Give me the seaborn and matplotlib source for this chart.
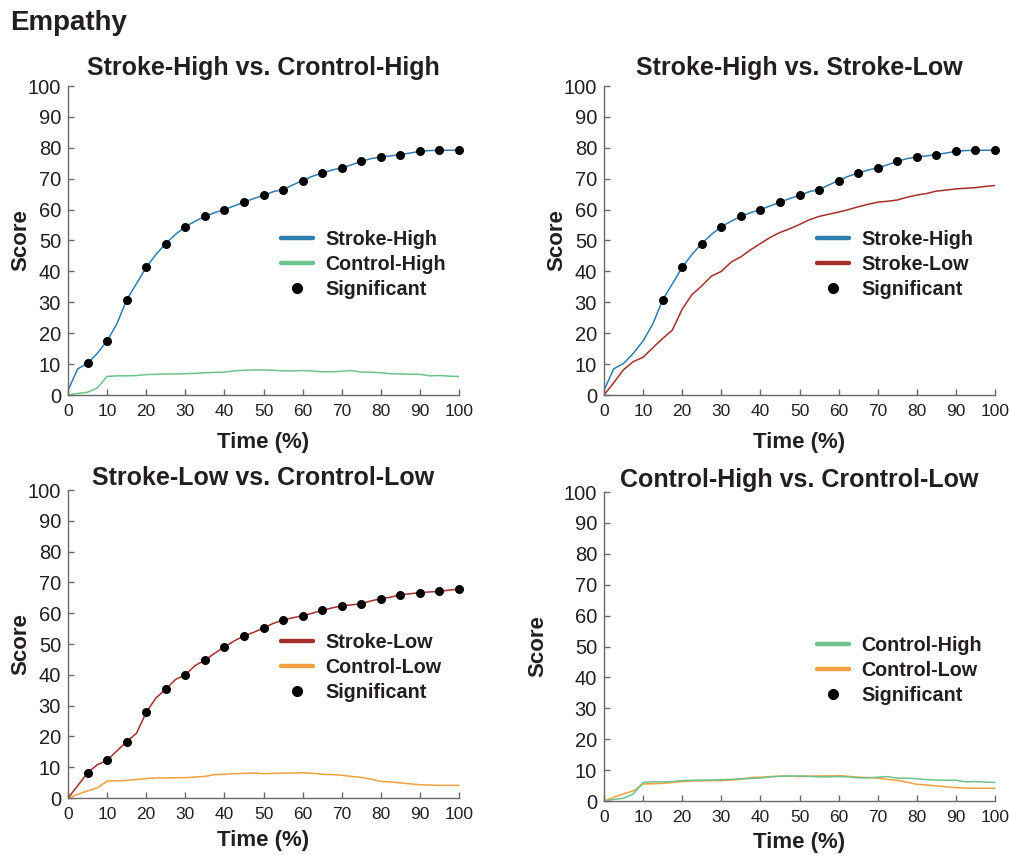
import numpy as np
import pandas as pd
import matplotlib
matplotlib.use("Agg")
import matplotlib.pyplot as plt
from matplotlib.lines import Line2D
import seaborn as sns

# ---------------- data ----------------
time = [0, 2.5, 5, 7.5, 10, 12.5, 15, 17.5, 20, 22.5, 25, 27.5, 30, 32.5, 35, 37.5,
        40, 42.5, 45, 47.5, 50, 52.5, 55, 57.5, 60, 62.5, 65, 67.5, 70, 72.5, 75,
        77.5, 80, 82.5, 85, 87.5, 90, 92.5, 95, 97.5, 100]

stroke_high = [1.5, 8.5, 10.2, 13.5, 17.5, 23.0, 30.8, 36.0, 41.3, 45.5, 49.0, 52.0,
               54.5, 56.2, 57.8, 59.0, 60.0, 61.2, 62.4, 63.6, 64.6, 65.8, 66.5, 68.0,
               69.4, 70.8, 71.8, 72.8, 73.5, 74.5, 75.6, 76.5, 77.0, 77.4, 77.8, 78.3,
               78.9, 79.1, 79.2, 79.2, 79.2]

stroke_low = [0.0, 4.0, 8.2, 10.8, 12.2, 15.3, 18.3, 21.0, 27.8, 32.5, 35.3, 38.5,
              40.0, 43.0, 44.7, 47.0, 49.0, 51.0, 52.6, 53.8, 55.2, 56.7, 57.8, 58.5,
              59.2, 60.0, 60.9, 61.7, 62.4, 62.7, 63.1, 64.0, 64.7, 65.2, 66.0, 66.3,
              66.7, 66.9, 67.1, 67.5, 67.8]

control_high = [0.0, 0.5, 0.9, 2.3, 6.0, 6.2, 6.2, 6.3, 6.6, 6.7, 6.8, 6.8, 6.9, 7.0,
                7.2, 7.3, 7.4, 7.8, 8.0, 8.1, 8.1, 8.0, 7.8, 7.8, 7.9, 7.8, 7.5, 7.5,
                7.7, 7.9, 7.4, 7.4, 7.2, 6.9, 6.8, 6.7, 6.7, 6.2, 6.3, 6.1, 6.0]

control_low = [0.0, 1.2, 2.3, 3.3, 5.5, 5.6, 5.7, 6.0, 6.3, 6.5, 6.5, 6.6, 6.6, 6.8,
               7.0, 7.6, 7.7, 7.9, 8.0, 8.1, 7.9, 8.0, 8.1, 8.1, 8.2, 8.0, 7.7, 7.6,
               7.4, 7.0, 6.7, 6.1, 5.4, 5.2, 4.9, 4.6, 4.3, 4.2, 4.1, 4.1, 4.1]

# significant time points for each comparison
sig_sh_ch = [5, 10, 15, 20, 25, 30, 35, 40, 45, 50, 55, 60, 65, 70, 75, 80, 85, 90, 95, 100]
sig_sh_sl = [15, 20, 25, 30, 35, 40, 45, 50, 55, 60, 65, 70, 75, 80, 85, 90, 95, 100]
sig_sl_cl = [5, 10, 15, 20, 25, 30, 35, 40, 45, 50, 55, 60, 65, 70, 75, 80, 85, 90, 95, 100]
sig_ch_cl = []

series = {
    "Stroke-High": stroke_high,
    "Stroke-Low": stroke_low,
    "Control-High": control_high,
    "Control-Low": control_low,
}
colors = {
    "Stroke-High": "#2E7DB2",
    "Stroke-Low": "#A3302C",
    "Control-High": "#6DC38B",
    "Control-Low": "#F0A040",
}

panels = [
    ("Stroke-High vs. Crontrol-High", "Stroke-High", "Control-High", sig_sh_ch),
    ("Stroke-High vs. Stroke-Low", "Stroke-High", "Stroke-Low", sig_sh_sl),
    ("Stroke-Low vs. Crontrol-Low", "Stroke-Low", "Control-Low", sig_sl_cl),
    ("Control-High vs. Crontrol-Low", "Control-High", "Control-Low", sig_ch_cl),
]

# ---------------- style ----------------
sns.set_style("ticks")
plt.rcParams["font.family"] = ["Liberation Sans", "DejaVu Sans"]

W, H = 1009, 855
fig = plt.figure(figsize=(W / 100, H / 100), dpi=100)

# axes boxes in pixel coordinates (left, top, right, bottom)
boxes = [(68, 86, 459, 395), (604, 86, 995, 395), (68, 490, 459, 798), (604, 492, 995, 801)]
title_pads = [8, 8, 1.5, 1.5]
xlabel_pads = [9, 9, 6, 5]
ylabel_x = [-0.094, -0.094, -0.094, -0.142]

spine_col = "#6a6a6a"
text_col = "#231F20"

for i, ((title, a, b, sig), (l, t, r, bt)) in enumerate(zip(panels, boxes)):
    ax = fig.add_axes([l / W, 1 - bt / H, (r - l) / W, (bt - t) / H])
    df = pd.DataFrame({"Time": time, a: series[a], b: series[b]})
    sns.lineplot(data=df, x="Time", y=b, color=colors[b], lw=1.1, ax=ax)
    sns.lineplot(data=df, x="Time", y=a, color=colors[a], lw=1.1, ax=ax)
    if sig:
        dsig = df[df["Time"].isin(sig)]
        sns.scatterplot(data=dsig, x="Time", y=a, color="black", s=42,
                        edgecolor="black", linewidth=0, zorder=5, clip_on=False, ax=ax)
    ax.set_xlim(0, 100)
    ax.set_ylim(0, 100)
    ax.set_xticks(range(0, 101, 10))
    ax.set_yticks(range(0, 101, 10))
    sns.despine(ax=ax)
    for s in ["left", "bottom"]:
        ax.spines[s].set_color(spine_col)
        ax.spines[s].set_linewidth(1.0)
    ax.tick_params(direction="in", length=4, width=1.0, color=spine_col,
                   labelcolor=text_col)
    ax.tick_params(axis="x", pad=6.5, labelsize=12.5)
    ax.tick_params(axis="y", pad=5, labelsize=14.5)
    ax.set_title(title, fontsize=18, fontweight="bold", color=text_col, pad=title_pads[i])
    ax.set_xlabel("Time (%)", fontsize=16, fontweight="bold", color=text_col,
                  labelpad=xlabel_pads[i])
    ax.set_ylabel("Score", fontsize=16, fontweight="bold", color=text_col)
    ax.yaxis.set_label_coords(ylabel_x[i], 0.5)

    handles = [
        Line2D([], [], color=colors[a], lw=3.2),
        Line2D([], [], color=colors[b], lw=3.2),
        Line2D([], [], color="black", marker="o", ls="none", markersize=7),
    ]
    leg = ax.legend(handles, [a, b, "Significant"], loc="upper left",
                    bbox_to_anchor=(0.545, 0.535), frameon=False, fontsize=14.2,
                    handlelength=1.6, handletextpad=0.65, labelspacing=0.3,
                    borderpad=0, borderaxespad=0)
    for txt in leg.get_texts():
        txt.set_fontweight("bold")
        txt.set_color(text_col)

fig.text(10 / W, 1 - 23 / H, "Empathy", fontsize=20, fontweight="bold",
         color=text_col, va="center", ha="left")

fig.savefig("out.png", dpi=100)
